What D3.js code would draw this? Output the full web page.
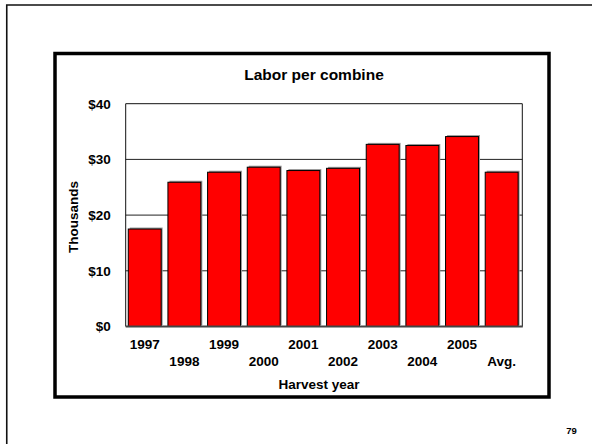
<!DOCTYPE html>
<html>
<head>
<meta charset="utf-8">
<script src="https://cdn.jsdelivr.net/npm/d3@7"></script>
<style>
  html, body { margin: 0; padding: 0; background: #fff; }
  svg { display: block; font-family: "Liberation Sans", Arial, sans-serif; font-weight: bold; }
</style>
</head>
<body>
<svg id="chart" width="592" height="444"></svg>
<script>
// Labor cost per combine by harvest year (thousands of dollars)
const categories = ["1997", "1998", "1999", "2000", "2001", "2002", "2003", "2004", "2005", "Avg."];
const laborValues = [17.5, 25.9, 27.7, 28.6, 28.0, 28.4, 32.7, 32.5, 34.1, 27.7];
const yTicks = [0, 10, 20, 30, 40];
const yTickLabels = ["$0", "$10", "$20", "$30", "$40"];

const svg = d3.select("#chart");

// slide frame (top and left edges only within the page)
svg.append("path")
  .attr("d", "M6.75,444 V5 H592")
  .attr("fill", "none")
  .attr("stroke", "#111")
  .attr("stroke-width", 1.6);

// chart frame
svg.append("rect")
  .attr("x", 55).attr("y", 53.5)
  .attr("width", 494).attr("height", 343.5)
  .attr("fill", "#fff")
  .attr("stroke", "#000")
  .attr("stroke-width", 3.5);

const plot = { left: 125.7, right: 522.3, top: 103.7, bottom: 326.5 };

const x = d3.scaleBand()
  .domain(categories)
  .range([plot.left - 0.8, plot.right - 0.8])
  .paddingInner(0.17)
  .paddingOuter(0.085);

const y = d3.scaleLinear()
  .domain([0, 40])
  .range([plot.bottom, plot.top]);

// gridlines
svg.append("g")
  .selectAll("line")
  .data(yTicks.filter(d => d > 0 && d < 40))
  .join("line")
  .attr("x1", plot.left).attr("x2", plot.right)
  .attr("y1", d => y(d)).attr("y2", d => y(d))
  .attr("stroke", "#222")
  .attr("stroke-width", 1);

// plot border
svg.append("path")
  .attr("d", `M${plot.left},${plot.bottom} V${plot.top} H${plot.right} V${plot.bottom}`)
  .attr("fill", "none")
  .attr("stroke", "#111")
  .attr("stroke-width", 1);

// bar shadows
svg.append("g")
  .selectAll("rect")
  .data(laborValues)
  .join("rect")
  .attr("x", (d, i) => x(categories[i]) + 1.5)
  .attr("y", d => y(d) - 1.5)
  .attr("width", x.bandwidth())
  .attr("height", d => y(0) - y(d))
  .attr("fill", "#9a9a9a");

// bars
svg.append("g")
  .selectAll("rect")
  .data(laborValues)
  .join("rect")
  .attr("x", (d, i) => x(categories[i]))
  .attr("y", d => y(d))
  .attr("width", x.bandwidth())
  .attr("height", d => y(0) - y(d))
  .attr("fill", "#ff0000")
  .attr("stroke", "#000")
  .attr("stroke-width", 1);

// baseline
svg.append("line")
  .attr("x1", plot.left).attr("x2", plot.right + 0.5)
  .attr("y1", y(0)).attr("y2", y(0))
  .attr("stroke", "#444")
  .attr("stroke-width", 2);

// y axis labels
const yAxis = d3.axisLeft(y)
  .tickValues(yTicks)
  .tickFormat((d, i) => yTickLabels[i])
  .tickSize(0)
  .tickPadding(15);
const yg = svg.append("g")
  .attr("transform", `translate(${plot.left},0)`)
  .call(yAxis);
yg.select(".domain").remove();
yg.selectAll("text")
  .attr("font-family", "'Liberation Sans', Arial, sans-serif")
  .attr("font-weight", "bold")
  .attr("font-size", 13.5)
  .attr("fill", "#000");

// x axis labels, staggered on two rows
const xAxis = d3.axisBottom(x).tickSize(0).tickPadding(0);
const xg = svg.append("g")
  .attr("transform", `translate(0,${plot.bottom})`)
  .call(xAxis);
xg.select(".domain").remove();
xg.selectAll("text")
  .attr("font-family", "'Liberation Sans', Arial, sans-serif")
  .attr("font-weight", "bold")
  .attr("font-size", 13.5)
  .attr("fill", "#000")
  .attr("dy", null)
  .attr("dominant-baseline", "central")
  .attr("y", (d, i) => (i % 2 === 0 ? 18.3 : 34.9));

// axis titles
svg.append("text")
  .attr("x", 319).attr("y", 384.5)
  .attr("text-anchor", "middle")
  .attr("dominant-baseline", "central")
  .attr("font-size", 13.5)
  .text("Harvest year");

svg.append("text")
  .attr("transform", "translate(73,217) rotate(-90)")
  .attr("text-anchor", "middle")
  .attr("dominant-baseline", "central")
  .attr("font-size", 13.5)
  .text("Thousands");

// chart title
svg.append("text")
  .attr("x", 314).attr("y", 74)
  .attr("text-anchor", "middle")
  .attr("dominant-baseline", "central")
  .attr("font-size", 15.5)
  .text("Labor per combine");

// page number
svg.append("text")
  .attr("x", 571.5).attr("y", 434)
  .attr("text-anchor", "middle")
  .attr("font-size", 9.5)
  .text("79");
</script>
</body>
</html>
